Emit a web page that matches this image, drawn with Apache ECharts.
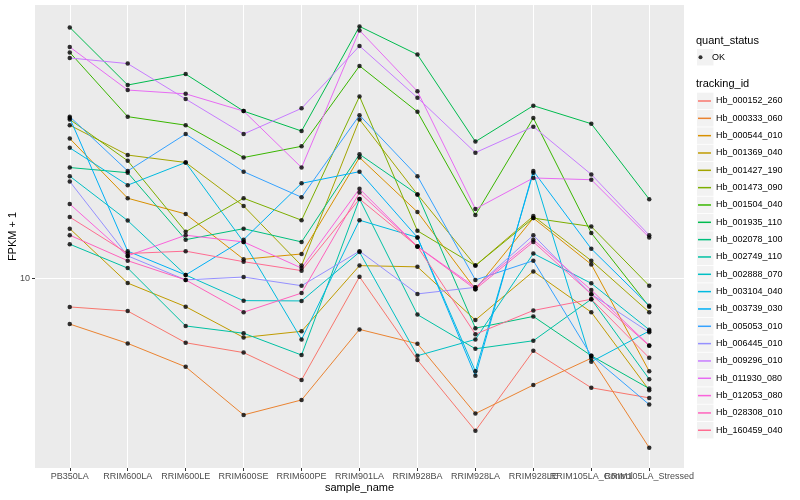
<!DOCTYPE html>
<html><head><meta charset="utf-8">
<script src="https://cdn.jsdelivr.net/npm/echarts@6/dist/echarts.min.js"></script>
<style>html,body{margin:0;padding:0;background:#fff}#c{width:800px;height:500px}</style>
</head><body><div id="c"></div>
<script>
const samples = ['PB350LA','RRIM600LA','RRIM600LE','RRIM600SE','RRIM600PE','RRIM901LA','RRIM928BA','RRIM928LA','RRIM928LE','RRIM105LA_Control','RRIM105LA_Stressed'];
const trackingIds = ['Hb_000152_260','Hb_000333_060','Hb_000544_010','Hb_001369_040','Hb_001427_190','Hb_001473_090','Hb_001504_040','Hb_001935_110','Hb_002078_100','Hb_002749_110','Hb_002888_070','Hb_003104_040','Hb_003739_030','Hb_005053_010','Hb_006445_010','Hb_009296_010','Hb_011930_080','Hb_012053_080','Hb_028308_010','Hb_160459_040'];
const colors = ['#F8766D','#EA8331','#D89000','#C09B00','#A3A500','#7CAE00','#39B600','#00BB4E','#00BF7D','#00C1A3','#00BFC4','#00BAE0','#00B0F6','#35A2FF','#9590FF','#C77CFF','#E76BF3','#FA62DB','#FF62BC','#FF6C91'];
const yTicks = [10];

const Hb_000152_260 = [8.96, 8.82, 7.81, 7.52, 6.77, 10.06, 7.31, 5.57, 7.57, 6.57, 6.32];
const Hb_000333_060 = [8.39, 7.79, 7.12, 5.92, 6.27, 8.22, 7.78, 5.95, 6.64, 7.36, 5.22];
const Hb_000544_010 = [17.1, 13.6, 12.8, 10.76, 10.98, 15.9, 12.9, 9.59, 12.6, 10.55, 7.0];
const Hb_001369_040 = [12.1, 9.82, 8.97, 7.97, 8.16, 10.5, 10.45, 8.52, 10.27, 8.78, 6.51];
const Hb_001427_190 = [18.0, 16.05, 15.6, 13.2, 10.5, 18.4, 13.8, 10.5, 12.7, 10.7, 8.78];
const Hb_001473_090 = [18.4, 15.7, 11.96, 13.6, 12.5, 20.1, 12.0, 10.5, 12.6, 12.2, 9.72];
const Hb_001504_040 = [23.8, 18.6, 18.0, 15.9, 16.6, 22.6, 18.95, 12.75, 18.5, 11.9, 8.97];
const Hb_001935_110 = [26.2, 21.0, 21.9, 19.0, 17.6, 26.3, 23.6, 16.9, 19.4, 18.1, 13.55];
const Hb_002078_100 = [15.3, 15.0, 11.6, 12.1, 11.5, 16.1, 13.8, 8.26, 8.64, 7.43, 6.55];
const Hb_002749_110 = [11.4, 10.4, 8.33, 8.1, 7.45, 13.56, 8.7, 7.63, 7.87, 9.23, 6.79];
const Hb_002888_070 = [14.8, 12.48, 10.13, 9.18, 9.17, 11.06, 7.43, 7.91, 11.0, 9.81, 8.21];
const Hb_003104_040 = [16.5, 14.3, 15.6, 11.5, 7.91, 12.5, 11.7, 7.0, 15.0, 7.26, 8.17];
const Hb_003739_030 = [18.5, 11.1, 10.13, 11.6, 14.4, 15.06, 11.7, 6.88, 15.1, 11.2, 9.0];
const Hb_005053_010 = [18.6, 15.1, 17.4, 15.06, 13.65, 18.7, 14.8, 9.94, 10.7, 7.43, 6.16];
const Hb_006445_010 = [14.5, 10.9, 9.94, 10.05, 9.72, 11.1, 9.42, 9.66, 11.8, 9.41, 8.13];
const Hb_009296_010 = [23.3, 22.8, 19.9, 17.4, 19.2, 24.4, 20.0, 16.2, 17.9, 14.9, 11.8];
const Hb_011930_080 = [24.3, 20.6, 20.3, 19.0, 15.3, 25.9, 20.5, 13.05, 14.7, 14.6, 11.7];
const Hb_012053_080 = [13.3, 10.9, 11.8, 11.5, 10.4, 14.1, 11.3, 9.66, 11.6, 9.56, 7.73];
const Hb_028308_010 = [11.8, 10.7, 9.94, 8.78, 9.45, 13.9, 11.3, 9.59, 11.5, 9.41, 7.72];
const Hb_160459_040 = [12.65, 11.0, 11.1, 10.66, 10.3, 13.56, 11.3, 8.07, 8.84, 9.23, 7.37];

const seriesValues = [Hb_000152_260, Hb_000333_060, Hb_000544_010, Hb_001369_040, Hb_001427_190, Hb_001473_090, Hb_001504_040, Hb_001935_110, Hb_002078_100, Hb_002749_110, Hb_002888_070, Hb_003104_040, Hb_003739_030, Hb_005053_010, Hb_006445_010, Hb_009296_010, Hb_011930_080, Hb_012053_080, Hb_028308_010, Hb_160459_040];

const FONT = 'Liberation Sans, Arial, Helvetica, sans-serif';
const xPos = samples.map((s, i) => i + 1);
const xOdd = xPos.filter(p => p % 2 === 1);
const xEven = xPos.filter(p => p % 2 === 0);

const lineSeries = trackingIds.map((id, k) => ({
  type: 'line', name: id, silent: true, animation: false,
  showSymbol: false, symbol: 'none',
  data: seriesValues[k].map((v, i) => [xPos[i], v]),
  lineStyle: { color: colors[k], width: 1 },
  itemStyle: { color: colors[k] },
  z: 2
}));
const pointData = [];
seriesValues.forEach(vals => vals.forEach((v, i) => pointData.push([xPos[i], v])));
const pointSeries = {
  type: 'scatter', name: 'OK', silent: true, animation: false,
  data: pointData, symbol: 'circle', symbolSize: 4.5,
  itemStyle: { color: '#000' }, z: 5
};

const graphic = [
  { type: 'text', left: 696, top: 35, style: { text: 'quant_status', font: '11px ' + FONT, fill: '#000' } },
  { type: 'text', left: 696, top: 78, style: { text: 'tracking_id', font: '11px ' + FONT, fill: '#000' } },
  { type: 'rect', shape: { x: 697, y: 49, width: 16.5, height: 16.5 }, style: { fill: '#F2F2F2' }, z: -1 }
];
trackingIds.forEach((id, i) => {
  graphic.push({ type: 'rect', shape: { x: 697, y: 92.7 + i * 17.33, width: 16.5, height: 16.5 }, style: { fill: '#F2F2F2' }, z: -1 });
});

const labelStyle = { color: '#4D4D4D', fontSize: 9, margin: 4, fontFamily: FONT, formatter: v => samples[Math.round(v) - 1] };

const chart = echarts.init(document.getElementById('c'), null, { renderer: 'canvas' });
chart.setOption({
  animation: false,
  backgroundColor: '#fff',
  textStyle: { fontFamily: FONT },
  grid: { left: 35, right: 116, top: 5, bottom: 32, show: true, backgroundColor: '#EBEBEB', borderWidth: 0, containLabel: false, outerBoundsMode: 'none' },
  xAxis: [
    {
      type: 'value', min: 0.4, max: 11.6, position: 'bottom',
      axisLine: { show: false },
      axisTick: { show: true, customValues: xPos, length: 3, lineStyle: { color: '#333', width: 1 } },
      axisLabel: Object.assign({ customValues: xOdd }, labelStyle),
      splitLine: { show: true, lineStyle: { color: '#fff', width: 1 } },
      name: 'sample_name', nameLocation: 'middle', nameGap: 14, nameMoveOverlap: false,
      nameTextStyle: { fontSize: 11, color: '#000', fontFamily: FONT }
    },
    {
      type: 'value', min: 0.4, max: 11.6, position: 'bottom', offset: 0,
      axisLine: { show: false }, axisTick: { show: false }, splitLine: { show: false },
      axisLabel: Object.assign({ customValues: xEven }, labelStyle)
    }
  ],
  yAxis: {
    type: 'log', logBase: 10, min: 4.829, max: 28.55,
    axisLine: { show: false },
    axisTick: { show: true, customValues: yTicks, length: 3, lineStyle: { color: '#333', width: 1 } },
    axisLabel: { customValues: yTicks, color: '#4D4D4D', fontSize: 9, margin: 5, fontFamily: FONT },
    splitLine: { show: true, lineStyle: { color: '#fff', width: 1 } },
    minorSplitLine: { show: false },
    name: 'FPKM + 1', nameLocation: 'middle', nameGap: 17, nameMoveOverlap: false,
    nameTextStyle: { fontSize: 11, color: '#000', fontFamily: FONT }
  },
  legend: [
    {
      data: [{ name: 'OK', icon: 'circle' }], orient: 'vertical', left: 693.5, top: 46.3,
      itemWidth: 13, itemHeight: 4, selectedMode: false,
      textStyle: { fontSize: 9, color: '#000', lineHeight: 12, fontFamily: FONT }
    },
    {
      data: trackingIds.map(id => ({ name: id, icon: 'rect' })), orient: 'vertical', left: 693, top: 90,
      itemWidth: 13, itemHeight: 1.5, itemGap: 5.33, selectedMode: false,
      textStyle: { fontSize: 9, color: '#000', lineHeight: 12, fontFamily: FONT }
    }
  ],
  graphic: graphic,
  series: lineSeries.concat([pointSeries])
});
</script>
</body></html>
